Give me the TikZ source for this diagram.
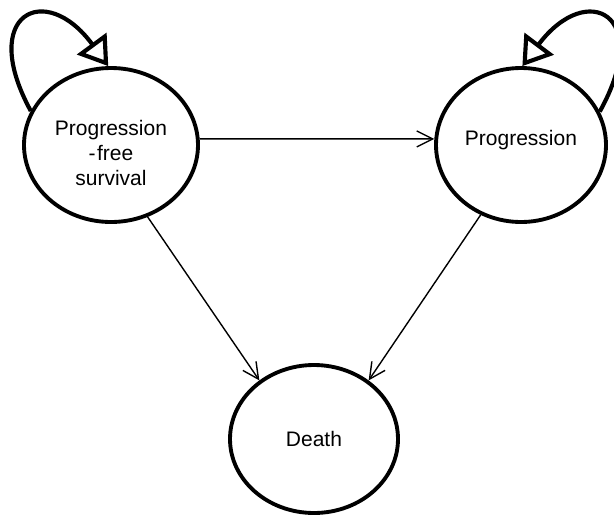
\documentclass[tikz,border=0pt]{standalone}
\usepackage{fontspec}
\setmainfont{Liberation Sans}
\usetikzlibrary{arrows.meta,shapes.geometric}
\begin{document}
\begin{tikzpicture}[x=0.75pt,y=-0.75pt,
  state/.style={ellipse, draw, line width=2.9pt, inner sep=0pt},
  conn/.style={line width=1.05pt, -{Straight Barb[length=12pt,width=12pt,line width=1.05pt]}},
  selfloop/.style={line width=3.1pt, -{Triangle[open,length=21pt,width=27pt]}},
  lab/.style={font=\fontsize{15.75}{18.75}\selectfont, align=center, inner sep=0pt}]
\useasboundingbox (0,0) rectangle (614,515);
\node[state, minimum width=130.5pt, minimum height=115.5pt] (L) at (111,145) {};
\node[state, minimum width=127.5pt, minimum height=115.5pt] (R) at (521,145) {};
\node[state, minimum width=126pt, minimum height=111pt] (D) at (314,439) {};
\node[lab] (Lt) at (111,153) {Progression\\-\kern1pt free\\survival};
\node[lab] (Rt) at (521,140) {Progression};
\node[lab] (Dt) at (314,439) {Death};
\draw[conn] (L.4) -- (R.176);
\draw[conn] (L.-63) -- (D.133);
\draw[conn] (R.-120) -- (D.47);
\draw[selfloop] (L.157) .. controls (-22,14) and (45,-20) .. (L.92);
\draw[selfloop] (R.23) .. controls (654,14) and (587,-20) .. (R.89);
\end{tikzpicture}
\end{document}
